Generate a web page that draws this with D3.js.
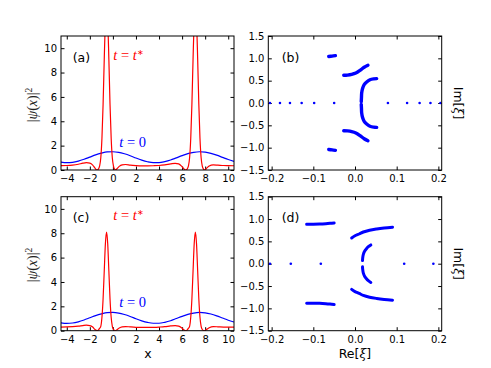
<!DOCTYPE html>
<html>
<head>
<meta charset="utf-8">
<script src="https://cdn.jsdelivr.net/npm/d3@7"></script>
<style>
  body { margin: 0; background: #fff; }
  text { font-family: "DejaVu Sans", sans-serif; }
</style>
</head>
<body>
<svg id="chart" width="491" height="368"></svg>
<script>
// |psi(x)|^2 at t = 0 (same in both rows)
const blueX = [-4.5, -4, -3.5, -3, -2.5, -2, -1.5, -1, -0.5, 0, 0.5, 1, 1.5, 2, 2.5, 3, 3.5, 4, 4.5, 5,
  5.5, 6, 6.5, 7, 7.5, 8, 8.5, 9, 9.5, 10, 10.5];
const blueY = [0.65, 0.60, 0.63, 0.73, 0.88, 1.06, 1.24, 1.38, 1.48, 1.50, 1.45, 1.33, 1.17, 0.98, 0.81,
  0.68, 0.61, 0.61, 0.69, 0.82, 1.00, 1.18, 1.34, 1.45, 1.50, 1.47, 1.37, 1.22, 1.04, 0.86, 0.71];

// |psi(x)|^2 at t = t*
const redX = [-4.5, -4, -3.5, -3, -2.6, -2.3, -2, -1.75, -1.55, -1.38, -1.25, -1.15, -1.05, -0.95, -0.85,
  -0.75, -0.65, -0.55, -0.45, -0.35, -0.25, -0.15, -0.05, 0.05, 0.15, 0.22, 0.35, 0.55, 0.8, 1.1, 1.5,
  2, 2.5, 3, 3.5, 4, 4.5, 5, 5.4, 5.7, 5.95, 6.15, 6.3, 6.45, 6.55, 6.65, 6.75, 6.85, 6.95, 7.05, 7.15,
  7.25, 7.35, 7.45, 7.55, 7.65, 7.75, 7.85, 7.95, 8.1, 8.35, 8.7, 9.1, 9.6, 10, 10.5];
const redA = [0.36, 0.37, 0.40, 0.47, 0.56, 0.60, 0.56, 0.40, 0.15, 0.0, 0.09, 0.33, 1.0, 2.6, 5.4,
  9.1, 12.4, 13.7, 12.4, 9.1, 5.4, 2.6, 1.0, 0.32, 0.07, 0.0, 0.1, 0.3, 0.42, 0.45, 0.40,
  0.36, 0.34, 0.34, 0.35, 0.37, 0.42, 0.50, 0.55, 0.50, 0.32, 0.10, 0.0, 0.09, 0.33, 1.0, 2.6, 5.4, 9.1, 12.4, 13.7,
  12.4, 9.1, 5.4, 2.6, 1.0, 0.32, 0.07, 0.0, 0.12, 0.32, 0.42, 0.40, 0.37, 0.36, 0.35];
const redC = [0.30, 0.31, 0.33, 0.37, 0.42, 0.45, 0.42, 0.30, 0.10, 0.0, 0.07, 0.2, 0.36, 1.1, 2.63,
  4.9, 7.15, 8.1, 7.15, 4.9, 2.63, 1.1, 0.36, 0.1, 0.02, 0.0, 0.08, 0.22, 0.32, 0.34, 0.31,
  0.28, 0.27, 0.27, 0.28, 0.30, 0.33, 0.39, 0.42, 0.38, 0.24, 0.07, 0.0, 0.07, 0.2, 0.36, 1.1, 2.63, 4.9, 7.15, 8.1,
  7.15, 4.9, 2.63, 1.1, 0.36, 0.1, 0.02, 0.0, 0.09, 0.24, 0.33, 0.32, 0.30, 0.29, 0.29];

// spectrum (b): real eigenvalues and complex branches [Re, Im]
const bReal = [-0.204, -0.18, -0.156, -0.128, -0.098, -0.050, 0.079, 0.125, 0.155, 0.181, 0.205];
const bBranches = [
  [[-0.063, 1.04], [-0.055, 1.05], [-0.047, 1.06]],
  [[-0.063, -1.04], [-0.055, -1.05], [-0.047, -1.06]],
  [[-0.027, 0.62], [-0.018, 0.625], [-0.008, 0.64], [0.002, 0.67], [0.012, 0.73], [0.022, 0.80], [0.031, 0.845]],
  [[-0.027, -0.62], [-0.018, -0.625], [-0.008, -0.64], [0.002, -0.67], [0.012, -0.73], [0.022, -0.80], [0.031, -0.845]],
  [[0.015, 0.03], [0.0155, 0.12], [0.016, 0.22], [0.018, 0.32], [0.022, 0.41], [0.028, 0.47], [0.036, 0.52], [0.045, 0.54], [0.052, 0.545]],
  [[0.015, -0.03], [0.0155, -0.12], [0.016, -0.22], [0.018, -0.32], [0.022, -0.41], [0.028, -0.47], [0.036, -0.52], [0.045, -0.54], [0.052, -0.545]]
];

// spectrum (d)
const dReal = [-0.204, -0.154, -0.082, 0.118, 0.188];
const dBranches = [
  [[-0.116, 0.885], [-0.1, 0.884], [-0.085, 0.887], [-0.07, 0.895], [-0.06, 0.903], [-0.05, 0.913]],
  [[-0.116, -0.885], [-0.1, -0.884], [-0.085, -0.887], [-0.07, -0.895], [-0.06, -0.903], [-0.05, -0.913]],
  [[-0.008, 0.575], [0.0, 0.625], [0.01, 0.665], [0.02, 0.71], [0.035, 0.75], [0.052, 0.778], [0.07, 0.80], [0.09, 0.818]],
  [[-0.008, -0.575], [0.0, -0.625], [0.01, -0.665], [0.02, -0.71], [0.035, -0.75], [0.052, -0.778], [0.07, -0.80], [0.09, -0.818]],
  [[0.018, 0.07], [0.0185, 0.13], [0.02, 0.21], [0.023, 0.28], [0.027, 0.33], [0.032, 0.38], [0.038, 0.42]],
  [[0.018, -0.07], [0.0185, -0.13], [0.02, -0.21], [0.023, -0.28], [0.027, -0.33], [0.032, -0.38], [0.038, -0.42]]
];

const xTicksL = [-4, -2, 0, 2, 4, 6, 8, 10];
const yTicksL = [0, 2, 4, 6, 8, 10];
const xTicksR = [-0.2, -0.1, 0.0, 0.1, 0.2];
const yTicksR = [-1.5, -1.0, -0.5, 0.0, 0.5, 1.0, 1.5];

const svg = d3.select("#chart");
svg.append("rect").attr("width", 491).attr("height", 368).attr("fill", "#fff");

let clipCount = 0;

function panel(box, xDom, yDom, xt, yt, fx, fy) {
  const x = d3.scaleLinear().domain(xDom).range([box.x0, box.x1]);
  const y = d3.scaleLinear().domain(yDom).range([box.y1, box.y0]);
  const g = svg.append("g");

  const id = "clip" + clipCount++;
  svg.append("clipPath").attr("id", id)
    .append("rect")
    .attr("x", box.x0).attr("y", box.y0)
    .attr("width", box.x1 - box.x0).attr("height", box.y1 - box.y0);

  const axes = [
    [d3.axisBottom(x).tickValues(xt).tickSize(-3.5).tickPadding(5).tickFormat(fx), `translate(0,${box.y1})`],
    [d3.axisTop(x).tickValues(xt).tickSize(-3.5).tickFormat(""), `translate(0,${box.y0})`],
    [d3.axisLeft(y).tickValues(yt).tickSize(-3.5).tickPadding(4).tickFormat(fy), `translate(${box.x0},0)`],
    [d3.axisRight(y).tickValues(yt).tickSize(-3.5).tickFormat(""), `translate(${box.x1},0)`]
  ];
  axes.forEach(([ax, tr]) => {
    const a = g.append("g").attr("transform", tr).call(ax);
    a.select(".domain").remove();
    a.selectAll("line").attr("stroke", "#000");
    a.selectAll("text")
      .attr("fill", "#000")
      .style("font-family", "'DejaVu Sans', sans-serif")
      .style("font-size", "10px");
  });

  const plot = svg.append("g").attr("clip-path", `url(#${id})`);
  return { x, y, plot, box };
}

function frame(p) {
  svg.append("rect")
    .attr("x", p.box.x0).attr("y", p.box.y0)
    .attr("width", p.box.x1 - p.box.x0).attr("height", p.box.y1 - p.box.y0)
    .attr("fill", "none").attr("stroke", "#000").attr("stroke-width", 1);
}

function densityCurves(p, red) {
  const line = d3.line().x(d => p.x(d[0])).y(d => p.y(d[1])).curve(d3.curveMonotoneX);
  p.plot.append("path").datum(d3.zip(blueX, blueY))
    .attr("d", line).attr("fill", "none").attr("stroke", "#0000ff").attr("stroke-width", 1.2);
  p.plot.append("path").datum(d3.zip(redX, red))
    .attr("d", line).attr("fill", "none").attr("stroke", "#ff0000").attr("stroke-width", 1.2);
}

function spectrum(p, realVals, branches, w) {
  const line = d3.line().x(d => p.x(d[0])).y(d => p.y(d[1])).curve(d3.curveCatmullRom);
  p.plot.selectAll(null).data(branches).join("path")
    .attr("d", line).attr("fill", "none").attr("stroke", "#0000ff")
    .attr("stroke-width", w).attr("stroke-linecap", "round");
  p.plot.selectAll(null).data(realVals).join("circle")
    .attr("cx", d => p.x(d)).attr("cy", p.y(0)).attr("r", 1.3).attr("fill", "#0000ff");
}

const fInt = d3.format("d");
const fOne = d3.format(".1f");

const pa = panel({ x0: 61, x1: 234, y0: 36, y1: 170 }, [-4.5, 10.5], [0, 11], xTicksL, yTicksL, fInt, fInt);
const pb = panel({ x0: 268.3, x1: 441.7, y0: 36, y1: 170 }, [-0.208, 0.208], [-1.5, 1.5], xTicksR, yTicksR, fOne, fOne);
const pc = panel({ x0: 61, x1: 234, y0: 196.7, y1: 330.7 }, [-4.5, 10.5], [0, 11], xTicksL, yTicksL, fInt, fInt);
const pd = panel({ x0: 268.3, x1: 441.7, y0: 196.7, y1: 330.7 }, [-0.208, 0.208], [-1.5, 1.5], xTicksR, yTicksR, fOne, fOne);

densityCurves(pa, redA);
densityCurves(pc, redC);
spectrum(pb, bReal, bBranches, 3.4);
spectrum(pd, dReal, dBranches, 3.0);
[pa, pb, pc, pd].forEach(frame);

// panel tags
[["(a)", 72.7, 62.3], ["(b)", 281.7, 62.3], ["(c)", 72.7, 222.3], ["(d)", 281.7, 222.3]].forEach(([t, x, y]) => {
  svg.append("text").attr("x", x).attr("y", y).attr("font-size", 12.5).text(t);
});

// math annotations
function tStar(x, y) {
  const t = svg.append("text").attr("x", x).attr("y", y).attr("fill", "#ff0000")
    .style("font-family", "'Liberation Serif', serif").attr("font-size", 14.5);
  t.append("tspan").attr("font-style", "italic").text("t");
  t.append("tspan").text(" = ");
  t.append("tspan").attr("font-style", "italic").text("t");
  t.append("tspan").attr("dy", -5).attr("font-size", 8).text("∗");
}
function tZero(x, y) {
  const t = svg.append("text").attr("x", x).attr("y", y).attr("fill", "#0000ff")
    .style("font-family", "'Liberation Serif', serif").attr("font-size", 14.5);
  t.append("tspan").attr("font-style", "italic").text("t");
  t.append("tspan").text(" = 0");
}
tStar(113.3, 60);
tStar(113.3, 220);
tZero(119.3, 146.7);
tZero(119.3, 307.3);

function psiLabel(cx, cy) {
  const t = svg.append("text").attr("transform", `translate(${cx},${cy}) rotate(-90)`)
    .attr("text-anchor", "middle").attr("dy", "0.35em").attr("fill", "#222")
    .style("font-family", "'Liberation Serif', serif").attr("font-size", 14);
  t.append("tspan").text("|");
  t.append("tspan").attr("font-style", "italic").text("ψ");
  t.append("tspan").text("(");
  t.append("tspan").attr("font-style", "italic").text("x");
  t.append("tspan").text(")|");
  t.append("tspan").attr("dy", -5).attr("font-size", 9.5).text("2");
}
psiLabel(32, 105);
psiLabel(32, 265);

function xiLabel(t, pre) {
  t.append("tspan").text(pre + "[");
  t.append("tspan").attr("font-style", "italic").style("font-family", "'DejaVu Serif', serif").text("ξ");
  t.append("tspan").text("]");
}
[103, 263.7].forEach(cy => {
  const t = svg.append("text").attr("transform", `translate(458,${cy}) rotate(90)`)
    .attr("text-anchor", "middle").attr("dy", "0.35em").attr("font-size", 12.5);
  xiLabel(t, "Im");
});
xiLabel(svg.append("text").attr("x", 355).attr("y", 357.5).attr("text-anchor", "middle").attr("font-size", 12.5), "Re");
svg.append("text").attr("x", 148).attr("y", 357.7).attr("text-anchor", "middle").attr("font-size", 12.5).text("x");
</script>
</body>
</html>
